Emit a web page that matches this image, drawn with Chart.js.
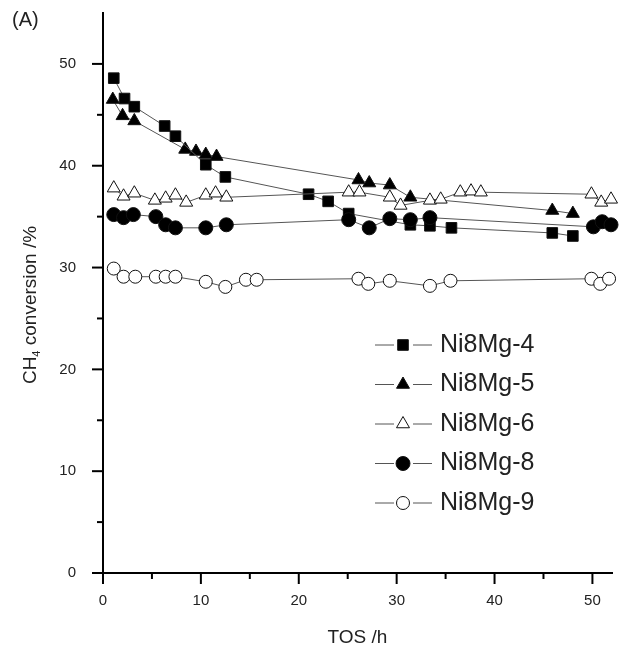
<!DOCTYPE html>
<html>
<head>
<meta charset="utf-8">
<script src="https://cdn.jsdelivr.net/npm/chart.js@4.4.1/dist/chart.umd.min.js"></script>
<style>
  html, body { margin: 0; padding: 0; background: #fff; }
</style>
</head>
<body>
<canvas id="convChart" width="625" height="648"></canvas>
<script>
// Data (TOS in h, CH4 conversion in %)
const seriesNames = ['Ni8Mg-4', 'Ni8Mg-5', 'Ni8Mg-6', 'Ni8Mg-8', 'Ni8Mg-9'];

const tosMg4 = [1.1, 2.2, 3.2, 6.3, 7.4, 10.5, 12.5, 21.0, 23.0, 25.1, 31.4, 33.4, 35.6, 45.9, 48.0];
const convMg4 = [48.6, 46.6, 45.8, 43.9, 42.9, 40.1, 38.9, 37.2, 36.5, 35.3, 34.2, 34.1, 33.9, 33.4, 33.1];

const tosMg5 = [1.0, 2.0, 3.2, 8.4, 9.5, 10.5, 11.6, 26.1, 27.2, 29.3, 31.4, 45.9, 48.0];
const convMg5 = [46.5, 44.9, 44.4, 41.6, 41.4, 41.1, 40.9, 38.6, 38.3, 38.1, 36.9, 35.6, 35.3];

const tosMg6 = [1.1, 2.1, 3.2, 5.3, 6.4, 7.4, 8.5, 10.5, 11.5, 12.6, 25.1, 26.2, 29.3, 30.4, 33.4, 34.5, 36.5, 37.6, 38.6, 49.9, 50.9, 51.9];
const convMg6 = [37.8, 37.0, 37.3, 36.6, 36.8, 37.1, 36.4, 37.1, 37.3, 36.9, 37.4, 37.4, 36.9, 36.1, 36.6, 36.7, 37.4, 37.5, 37.4, 37.2, 36.4, 36.7];

const tosMg8 = [1.1, 2.1, 3.1, 5.4, 6.4, 7.4, 10.5, 12.6, 25.1, 27.2, 29.3, 31.4, 33.4, 50.1, 51.0, 51.9];
const convMg8 = [35.2, 34.9, 35.2, 35.0, 34.2, 33.9, 33.9, 34.2, 34.7, 33.9, 34.8, 34.7, 34.9, 34.0, 34.5, 34.2];

const tosMg9 = [1.1, 2.1, 3.3, 5.4, 6.4, 7.4, 10.5, 12.5, 14.6, 15.7, 26.1, 27.1, 29.3, 33.4, 35.5, 49.9, 50.8, 51.7];
const convMg9 = [29.9, 29.1, 29.1, 29.1, 29.1, 29.1, 28.6, 28.1, 28.8, 28.8, 28.9, 28.4, 28.7, 28.2, 28.7, 28.9, 28.4, 28.9];

const xTicks = [0, 10, 20, 30, 40, 50];
const yTicks = [0, 10, 20, 30, 40, 50];

const FONT = "'Liberation Sans', Arial, sans-serif";

// marker look for each series
const markers = [
    { pointStyle: 'rect', radius: 7.5, fill: '#000' },
    { pointStyle: 'triangle', radius: 7.5, fill: '#000' },
    { pointStyle: 'triangle', radius: 7.5, fill: '#fff' },
    { pointStyle: 'circle', radius: 7, fill: '#000' },
    { pointStyle: 'circle', radius: 6.5, fill: '#fff' }
];
const drawOrder = [3, 4, 2, 0, 1];

function toPoints(xs, ys) {
    return xs.map((x, i) => ({ x: x, y: ys[i] }));
}

const allX = [tosMg4, tosMg5, tosMg6, tosMg8, tosMg9];
const allY = [convMg4, convMg5, convMg6, convMg8, convMg9];

const datasets = seriesNames.map((name, i) => ({
    label: name,
    data: toPoints(allX[i], allY[i]),
    showLine: true,
    clip: false,
    borderColor: '#555',
    borderWidth: 1,
    pointStyle: markers[i].pointStyle,
    pointRadius: markers[i].radius,
    pointHoverRadius: markers[i].radius,
    pointBackgroundColor: markers[i].fill,
    pointBorderColor: '#111',
    pointBorderWidth: 1,
    order: drawOrder[i]
}));

// ticks, titles, panel letter and the line+marker legend
const decor = {
    id: 'decor',
    afterDraw(chart) {
        const { ctx, scales: { x, y } } = chart;
        const x0 = x.getPixelForValue(0);
        const y0 = y.getPixelForValue(0);
        ctx.save();
        ctx.strokeStyle = '#000';
        ctx.lineWidth = 2;

        // major + minor ticks, outward
        xTicks.forEach(v => {
            const px = x.getPixelForValue(v);
            ctx.beginPath(); ctx.moveTo(px, y0); ctx.lineTo(px, y0 + 11); ctx.stroke();
            if (v + 5 < x.max) {
                const pm = x.getPixelForValue(v + 5);
                ctx.beginPath(); ctx.moveTo(pm, y0); ctx.lineTo(pm, y0 + 6); ctx.stroke();
            }
        });
        yTicks.forEach(v => {
            const py = y.getPixelForValue(v);
            ctx.beginPath(); ctx.moveTo(x0, py); ctx.lineTo(x0 - 11, py); ctx.stroke();
            if (v + 5 < y.max) {
                const pm = y.getPixelForValue(v + 5);
                ctx.beginPath(); ctx.moveTo(x0, pm); ctx.lineTo(x0 - 6, pm); ctx.stroke();
            }
        });

        ctx.fillStyle = '#222';
        // panel letter
        ctx.font = '20px ' + FONT;
        ctx.textAlign = 'left';
        ctx.textBaseline = 'middle';
        ctx.fillText('(A)', 12, 20);

        // x title
        ctx.textAlign = 'center';
        ctx.font = '19px ' + FONT;
        ctx.fillText('TOS /h', (x.left + x.right) / 2, 638);

        // y title with subscript
        ctx.save();
        ctx.translate(29, 305);
        ctx.rotate(-Math.PI / 2);
        ctx.textAlign = 'left';
        ctx.textBaseline = 'alphabetic';
        const big = '19px ' + FONT;
        const small = '11px ' + FONT;
        ctx.font = big;
        const wCH = ctx.measureText('CH').width;
        const wRest = ctx.measureText(' conversion /%').width;
        ctx.font = small;
        const wSub = ctx.measureText('4').width;
        let tx = -(wCH + wSub + wRest) / 2;
        const base = 7;
        ctx.font = big;
        ctx.fillText('CH', tx, base);
        tx += wCH;
        ctx.font = small;
        ctx.fillText('4', tx, base + 4);
        tx += wSub;
        ctx.font = big;
        ctx.fillText(' conversion /%', tx, base);
        ctx.restore();

        // legend
        chart.data.datasets.forEach((ds, i) => {
            const ly = 345 + i * 39.5;
            ctx.strokeStyle = '#555';
            ctx.lineWidth = 1;
            ctx.beginPath(); ctx.moveTo(375, ly); ctx.lineTo(394, ly); ctx.stroke();
            ctx.beginPath(); ctx.moveTo(413, ly); ctx.lineTo(432, ly); ctx.stroke();
            ctx.fillStyle = ds.pointBackgroundColor;
            ctx.strokeStyle = ds.pointBorderColor;
            ctx.lineWidth = 1;
            Chart.helpers.drawPoint(ctx, {
                pointStyle: ds.pointStyle,
                radius: ds.pointRadius,
                borderWidth: 1,
                rotation: 0
            }, 403, ly);
            ctx.fillStyle = '#222';
            ctx.font = '25px ' + FONT;
            ctx.textAlign = 'left';
            ctx.textBaseline = 'middle';
            ctx.fillText(ds.label, 440, ly);
        });
        ctx.restore();
    }
};

const ctx = document.getElementById('convChart').getContext('2d');
new Chart(ctx, {
    type: 'scatter',
    data: { datasets: datasets },
    options: {
        responsive: false,
        animation: false,
        devicePixelRatio: 1,
        layout: { padding: { top: 13, right: 13, left: 0, bottom: 0 } },
        plugins: {
            legend: { display: false },
            tooltip: { enabled: false }
        },
        scales: {
            x: {
                type: 'linear',
                min: 0,
                max: 52,
                grid: { display: false, drawTicks: false },
                border: { display: true, color: '#000', width: 2 },
                afterBuildTicks: s => { s.ticks = xTicks.map(v => ({ value: v })); },
                afterFit: s => { s.height = 75; s.paddingLeft = 0; s.paddingRight = 0; },
                ticks: { font: { family: FONT, size: 15 }, color: '#222', padding: 19, maxRotation: 0, autoSkip: false }
            },
            y: {
                type: 'linear',
                min: 0,
                max: 55,
                grid: { display: false, drawTicks: false },
                border: { display: true, color: '#000', width: 2 },
                afterBuildTicks: s => { s.ticks = yTicks.map(v => ({ value: v })); },
                afterFit: s => { s.width = 103; s.paddingTop = 0; s.paddingBottom = 0; },
                ticks: { font: { family: FONT, size: 15 }, color: '#222', padding: 27, autoSkip: false }
            }
        }
    },
    plugins: [decor]
});
</script>
</body>
</html>
